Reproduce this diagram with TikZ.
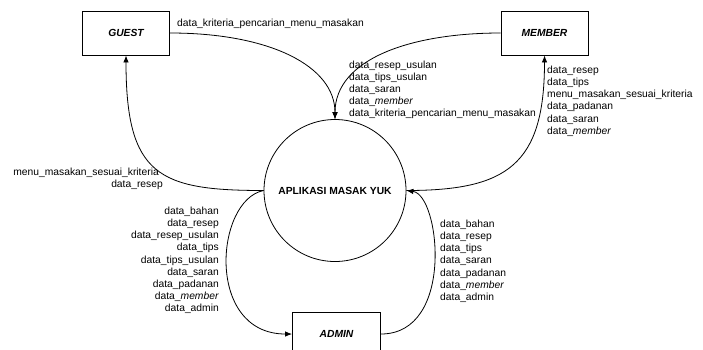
\documentclass[tikz,border=0pt]{standalone}
\usepackage{fontspec}
\setmainfont{Liberation Sans}
\usetikzlibrary{arrows.meta}
\begin{document}
\begin{tikzpicture}[x=1pt,y=-1pt,
  every node/.style={inner sep=0pt, font=\fontsize{10.3}{12.1}\selectfont},
  entity/.style={draw, line width=0.9pt, rectangle, minimum width=87pt, minimum height=44pt, font=\fontsize{10.3}{12.1}\selectfont\bfseries\itshape},
  process/.style={draw, line width=0.8pt, circle, minimum size=142pt, font=\fontsize{10.3}{12.1}\selectfont\bfseries},
  flow/.style={line width=0.8pt, -{Latex[length=7pt,width=5.5pt]}},
  lbl/.style={align=left, anchor=north west},
  lblr/.style={align=right, anchor=north east}]
\useasboundingbox (0,0) rectangle (703,349);
\clip (0,0) rectangle (703,349);
\node[entity] (guest) at (126,33) {GUEST};
\node[entity] (member) at (544.5,33) {MEMBER};
\node[process] (app) at (335,190.5) {APLIKASI MASAK YUK};
\node[entity, minimum width=88pt] (admin) at (336.5,334) {ADMIN};
% flows into process top
\draw[flow] (guest.east) .. controls +(100,0) and +(0,-53) .. (app.north);
\draw[flow] (member.west) .. controls +(-90,0) and +(0,-60) .. (app.north);
% process to guest
\draw[flow] (app.west) .. controls +(-105,0) and +(0,120) .. (guest.south);
% process to admin
\draw[flow] (app.west) .. controls (215,200) and (205,334) .. (admin.west);
% admin to process
\draw[flow] (admin.east) .. controls (455,334) and (440,195) .. (app.east);
% process to member
\draw[flow] (app.east) .. controls +(100,0) and +(0,110) .. (member.south);
% labels
\node[anchor=base west] (l1) at (177,26.5) {data\_kriteria\_pencarian\_menu\_masakan};
\node[lbl] (l2) at (349,60.5) {data\_resep\_usulan\\data\_tips\_usulan\\data\_saran\\data\_\textit{member}\\data\_kriteria\_pencarian\_menu\_masakan};
\node[lbl] (l3) at (547,66) {data\_resep\\data\_tips\\menu\_masakan\_sesuai\_kriteria\\data\_padanan\\data\_saran\\data\_\textit{member}};
\node[lblr] (l4) at (163,167.5) {menu\_masakan\_sesuai\_kriteria\hspace*{4pt}\\data\_resep};
\node[lblr] (l5) at (219,207) {data\_bahan\\data\_resep\\data\_resep\_usulan\\data\_tips\\data\_tips\_usulan\\data\_saran\\data\_padanan\\data\_\textit{member}\\data\_admin};
\node[lbl] (l6) at (440,220) {data\_bahan\\data\_resep\\data\_tips\\data\_saran\\data\_padanan\\data\_\textit{member}\\data\_admin};
\end{tikzpicture}
\end{document}
